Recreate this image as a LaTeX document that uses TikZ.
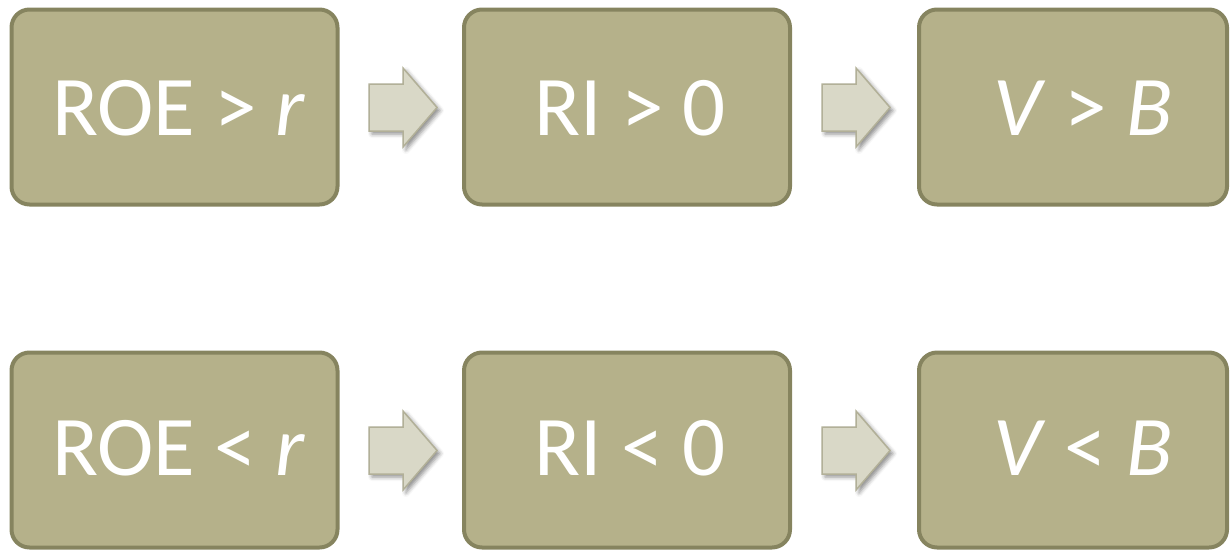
\documentclass[tikz,border=0pt]{standalone}
\usepackage{fontspec}
\setmainfont{Carlito}
\usetikzlibrary{shadows.blur}
\definecolor{boxfill}{HTML}{B5B18A}
\definecolor{boxline}{HTML}{86845F}
\definecolor{arrfill}{HTML}{D9D8C7}
\definecolor{arrline}{HTML}{B2B098}
\tikzset{
  resbox/.style={draw=boxline, line width=4pt, fill=boxfill, rounded corners=18pt,
    minimum width=326pt, minimum height=195pt, inner sep=0pt},
  narrowbox/.style={resbox, minimum width=308pt},
  lbl/.style={text=white, font=\fontsize{85}{100}\selectfont, inner sep=0pt, anchor=base},
  blockarrow/.style={draw=arrline, line width=1.5pt, fill=arrfill, line join=miter,
    blur shadow={shadow xshift=3pt, shadow yshift=-3pt, shadow blur radius=4pt, shadow opacity=45}}
}
\begin{document}
\begin{tikzpicture}[x=1pt,y=-1pt]
\useasboundingbox (0,0) rectangle (1230,549);
% top row
\node[resbox] (b1) at (174.5,107) {};
\node[resbox] (b2) at (627,107) {};
\node[narrowbox] (b3) at (1073,107) {};
% bottom row
\node[resbox] (b4) at (174.5,450) {};
\node[resbox] (b5) at (627,450) {};
\node[narrowbox] (b6) at (1073,450) {};
% labels
\node[lbl] (t1) at (179,135) {ROE > \textit{r}};
\node[lbl] (t2) at (630,135) {RI > 0};
\node[lbl] (t3) at (1083,135) {\textit{V} > \textit{B}};
\node[lbl] (t4) at (179,475) {ROE < \textit{r}};
\node[lbl] (t5) at (630,475) {RI < 0};
\node[lbl] (t6) at (1083,475) {\textit{V} < \textit{B}};
% block arrows
\foreach \dx/\dy in {0/0, 453/0, 0/343, 453/343}{
  \begin{scope}[shift={(\dx,\dy)}]
    \draw[blockarrow] (369,84) -- (403,84) -- (403,68) -- (437,107.5) -- (403,147) -- (403,131) -- (369,131) -- cycle;
  \end{scope}
}
\end{tikzpicture}
\end{document}
